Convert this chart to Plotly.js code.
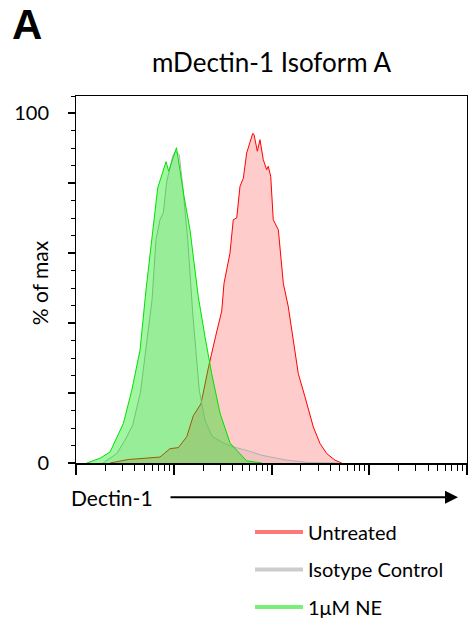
<!DOCTYPE html>
<html><head><meta charset="utf-8">
<script src="https://cdn.plot.ly/plotly-3.0.1.min.js"></script>
<style>html,body{margin:0;padding:0;background:#fff}</style>
</head><body>
<div id="chart" style="width:469px;height:620px"></div>
<script>
const seriesNames = ['Untreated', 'Isotype Control', '1μM NE'];

const untreatedX = [22.3, 34.3, 52.8, 72.3, 91.6, 111.4, 135.8, 158.5, 190.1, 227.0, 267.3, 309.7, 326.6, 375.8, 406.4, 440.6, 476.4, 515.2, 557.2, 602.6, 642.7, 662.2, 716.1, 762.1, 824.1, 893.1, 926.8, 981.7, 1042, 1175, 1321, 1486, 1671, 1879, 2203, 2679, 3133, 3673, 4467, 5224];
const untreatedY = [0, 1.0, 1.4, 1.7, 4.1, 4.4, 7.5, 13.5, 17.0, 27.5, 36.1, 43.5, 51.4, 60.0, 69.6, 70.1, 79.2, 81.5, 88.7, 91.6, 94.3, 94.0, 89.2, 92.5, 86.8, 83.9, 84.9, 82.0, 69.6, 66.7, 51.4, 44.7, 35.2, 25.6, 18.9, 10.3, 5.6, 2.7, 0.8, 0];

const isotypeX = [18.9, 26.1, 31.7, 38.0, 45.7, 52.6, 60.0, 65.8, 72.3, 78.2, 84.7, 97.5, 103.8, 114.0, 123.6, 139.0, 156.3, 182.4, 208.9, 246.0, 311.9, 406.4, 557.2, 799.8, 1432, 2477, 5012];
const isotypeY = [0, 2.7, 6.5, 10.8, 20.3, 34.3, 46.7, 63.9, 69.6, 71.6, 80.5, 87.8, 89.2, 88.2, 79.2, 63.9, 42.9, 20.8, 12.2, 7.7, 5.9, 4.6, 3.6, 2.2, 0.8, 0.1, 0];

const neX = [12.9, 17.6, 22.3, 30.5, 37.2, 45.2, 52.0, 59.4, 68.5, 83.4, 88.7, 106.7, 115.9, 127.4, 146.6, 178.2, 208.9, 244.3, 297.2, 376.7, 557.2, 794];
const neY = [0, 1.35, 3.15, 11.3, 20.8, 32.3, 49.5, 63.9, 78.7, 86.2, 83.5, 90.2, 83.1, 76.3, 66.7, 47.6, 36.1, 25.6, 14.3, 5.7, 0.6, 0];

const yTickVals = [0, 20, 40, 60, 80, 100];
const yTickText = ['0', '', '', '', '', '100'];
const xMajorTicks = [10, 100, 1000, 10000, 100000];

const xMinorTicks = [];
for (let i = 0; i < xMajorTicks.length - 1; i++) {
  for (let k = 2; k <= 9; k++) xMinorTicks.push(xMajorTicks[i] * k);
}

const FONT = 'Lato, "Open Sans", "Liberation Sans", sans-serif';

const traces = [
  {x: untreatedX, y: untreatedY, type: 'scatter', mode: 'lines', fill: 'tozeroy',
   line: {color: '#ff0000', width: 1}, fillcolor: 'rgba(255,0,0,0.2)', showlegend: false, hoverinfo: 'skip'},
  {x: isotypeX, y: isotypeY, type: 'scatter', mode: 'lines', fill: 'tozeroy',
   line: {color: '#b0b0b0', width: 1}, fillcolor: 'rgba(128,128,128,0.11)', showlegend: false, hoverinfo: 'skip'},
  {x: neX, y: neY, type: 'scatter', mode: 'lines', fill: 'tozeroy',
   line: {color: '#00e000', width: 1}, fillcolor: 'rgba(0,230,0,0.37)', showlegend: false, hoverinfo: 'skip'},
  {x: [null], y: [null], type: 'scatter', mode: 'lines', name: seriesNames[0], legendgroup: 'a',
   line: {color: '#ff7878', width: 4}},
  {x: [null], y: [null], type: 'scatter', mode: 'lines', name: seriesNames[1], legendgroup: 'b',
   line: {color: '#cccccc', width: 4}},
  {x: [null], y: [null], type: 'scatter', mode: 'lines', name: seriesNames[2], legendgroup: 'c',
   line: {color: '#78f078', width: 4}}
];

const layout = {
  width: 469, height: 620,
  margin: {l: 76, r: 2, t: 96, b: 157, autoexpand: false},
  paper_bgcolor: '#fff', plot_bgcolor: '#fff',
  font: {family: FONT, size: 21, color: '#000'},
  title: {text: 'mDectin-1 Isoform A', font: {family: FONT, size: 26, color: '#000'},
          xref: 'paper', x: 0.5, xanchor: 'center', yref: 'container', y: 0.898, yanchor: 'middle'},
  xaxis: {
    type: 'log', range: [1, 5], showgrid: false, zeroline: false,
    showline: true, linecolor: '#000', linewidth: 1.5, mirror: true,
    tickmode: 'array', tickvals: xMajorTicks, showticklabels: false,
    ticks: 'outside', ticklen: 10, tickwidth: 2, tickcolor: '#000',
    minor: {tickmode: 'array', tickvals: xMinorTicks, ticks: 'outside', ticklen: 6, tickwidth: 1, tickcolor: '#000', showgrid: false}
  },
  yaxis: {
    range: [0, 105], showgrid: false, zeroline: false,
    showline: true, linecolor: '#000', linewidth: 1, mirror: true,
    tickmode: 'array', tickvals: yTickVals, ticktext: yTickText,
    ticks: 'outside', ticklen: 7, tickwidth: 2, tickcolor: '#000',
    ticklabelstandoff: 15, tickfont: {family: FONT, size: 20, color: '#000'},
    minor: {dtick: 5, ticks: 'outside', ticklen: 4, tickwidth: 1, tickcolor: '#000', showgrid: false}
  },
  legend: {
    x: 0.445, xanchor: 'left', y: -0.135, yanchor: 'top',
    font: {family: FONT, size: 20, color: '#000'},
    tracegroupgap: 8.5, itemwidth: 48, bgcolor: 'rgba(0,0,0,0)', borderwidth: 0
  },
  annotations: [
    {text: 'A', xref: 'paper', yref: 'paper', x: -0.168, y: 1.195, xanchor: 'left', yanchor: 'middle',
     showarrow: false, font: {family: '"Liberation Sans", Arial, sans-serif', size: 42, color: '#000', weight: 'bold'}},
    {text: '% of max', xref: 'paper', yref: 'paper', x: -0.0946, y: 0.49, xanchor: 'center', yanchor: 'middle',
     textangle: -90, showarrow: false, font: {family: FONT, size: 21, color: '#000'}},
    {text: 'Dectin-1', xref: 'paper', yref: 'paper', x: -0.018, y: -0.0935, xanchor: 'left', yanchor: 'middle',
     showarrow: false, font: {family: FONT, size: 21, color: '#000'}},
    {text: '', xref: 'paper', yref: 'paper', x: 0.977, y: -0.0935, axref: 'pixel', ayref: 'pixel', ax: -289, ay: 0,
     showarrow: true, arrowhead: 2, arrowsize: 1.3, arrowwidth: 2, arrowcolor: '#000'}
  ]
};

Plotly.newPlot('chart', traces, layout, {displayModeBar: false, staticPlot: true});
</script>
</body></html>
